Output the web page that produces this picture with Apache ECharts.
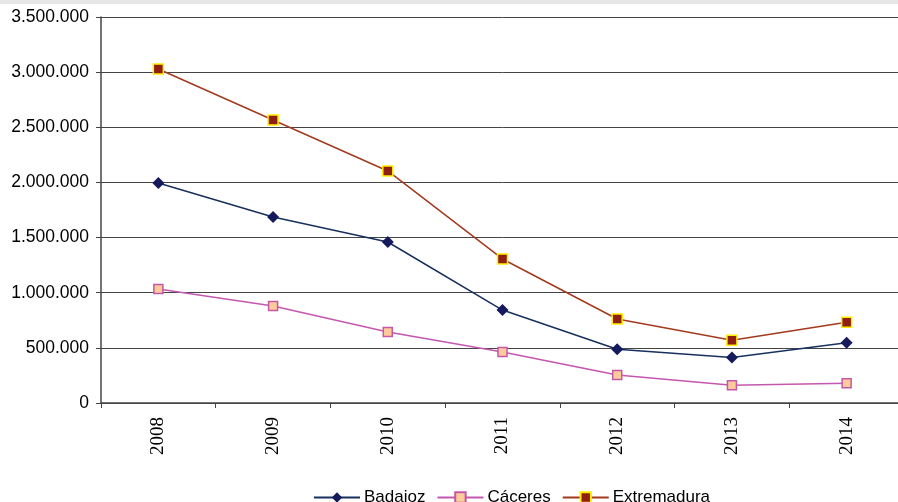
<!DOCTYPE html>
<html><head><meta charset="utf-8">
<script src="https://cdn.jsdelivr.net/npm/echarts@6/dist/echarts.min.js"></script>
<style>html,body{margin:0;padding:0;background:#fff;overflow:hidden;width:898px;height:502px}#c{width:904px;height:502px}</style>
</head><body><div id="c"></div>
<script>
const years = ['2008','2009','2010','2011','2012','2013','2014'];
const badajoz = [1995000, 1686000, 1460000, 843000, 488000, 412000, 546000];
const caceres = [1034000, 880000, 644000, 462000, 254000, 161000, 180000];
const extremadura = [3028000, 2566000, 2104000, 1306000, 762000, 568000, 733000];
const yTicks = [0, 500000, 1000000, 1500000, 2000000, 2500000, 3000000, 3500000];

function fmt(v){ return String(v).replace(/\B(?=(\d{3})+(?!\d))/g, '.'); }

const chart = echarts.init(document.getElementById('c'), null, {renderer:'canvas'});
chart.setOption({
  animation:false,
  graphic:[{type:'rect', shape:{x:0,y:0,width:904,height:4}, style:{fill:'#e6e6e6'}, silent:true}],
  grid:{left:101, right:0, top:17, bottom:99, containLabel:false},
  legend:{
    top:484, left:308, itemWidth:46, itemHeight:13, itemGap:11,
    textStyle:{fontFamily:'Liberation Sans', fontSize:17, color:'#000', padding:[0,0,0,-1]},
    data:['Badajoz','Cáceres','Extremadura']
  },
  xAxis:{
    type:'category', data:years, boundaryGap:true,
    axisLine:{lineStyle:{color:'#444', width:1.5}},
    axisTick:{show:true, length:5, lineStyle:{color:'#444'}},
    axisLabel:{rotate:90, fontFamily:'Liberation Serif', fontSize:19, color:'#000', margin:14}
  },
  yAxis:{
    type:'value', min:yTicks[0], max:yTicks[yTicks.length-1], interval:500000,
    axisLine:{show:true, lineStyle:{color:'#444', width:1.5}},
    axisTick:{show:true, length:5, lineStyle:{color:'#444'}},
    splitLine:{lineStyle:{color:'#444', width:1}},
    axisLabel:{fontFamily:'Liberation Sans', fontSize:17.5, color:'#000', margin:12, formatter:fmt}
  },
  series:[
    {name:'Badajoz', type:'line', data:badajoz, symbol:'diamond', symbolSize:12,
     lineStyle:{color:'#17305E', width:1.5}, itemStyle:{color:'#141A5C', borderColor:'#141A5C', borderWidth:0}},
    {name:'Cáceres', type:'line', data:caceres, symbol:'rect', symbolSize:9,
     lineStyle:{color:'#C457B0', width:1.5}, itemStyle:{color:'#FFCC99', borderColor:'#C457A8', borderWidth:1.5}},
    {name:'Extremadura', type:'line', data:extremadura, symbol:'rect', symbolSize:10,
     lineStyle:{color:'#A33A1E', width:1.5}, itemStyle:{color:'#8E1F12', borderColor:'#FFEE00', borderWidth:1.5}}
  ]
});
</script></body></html>
